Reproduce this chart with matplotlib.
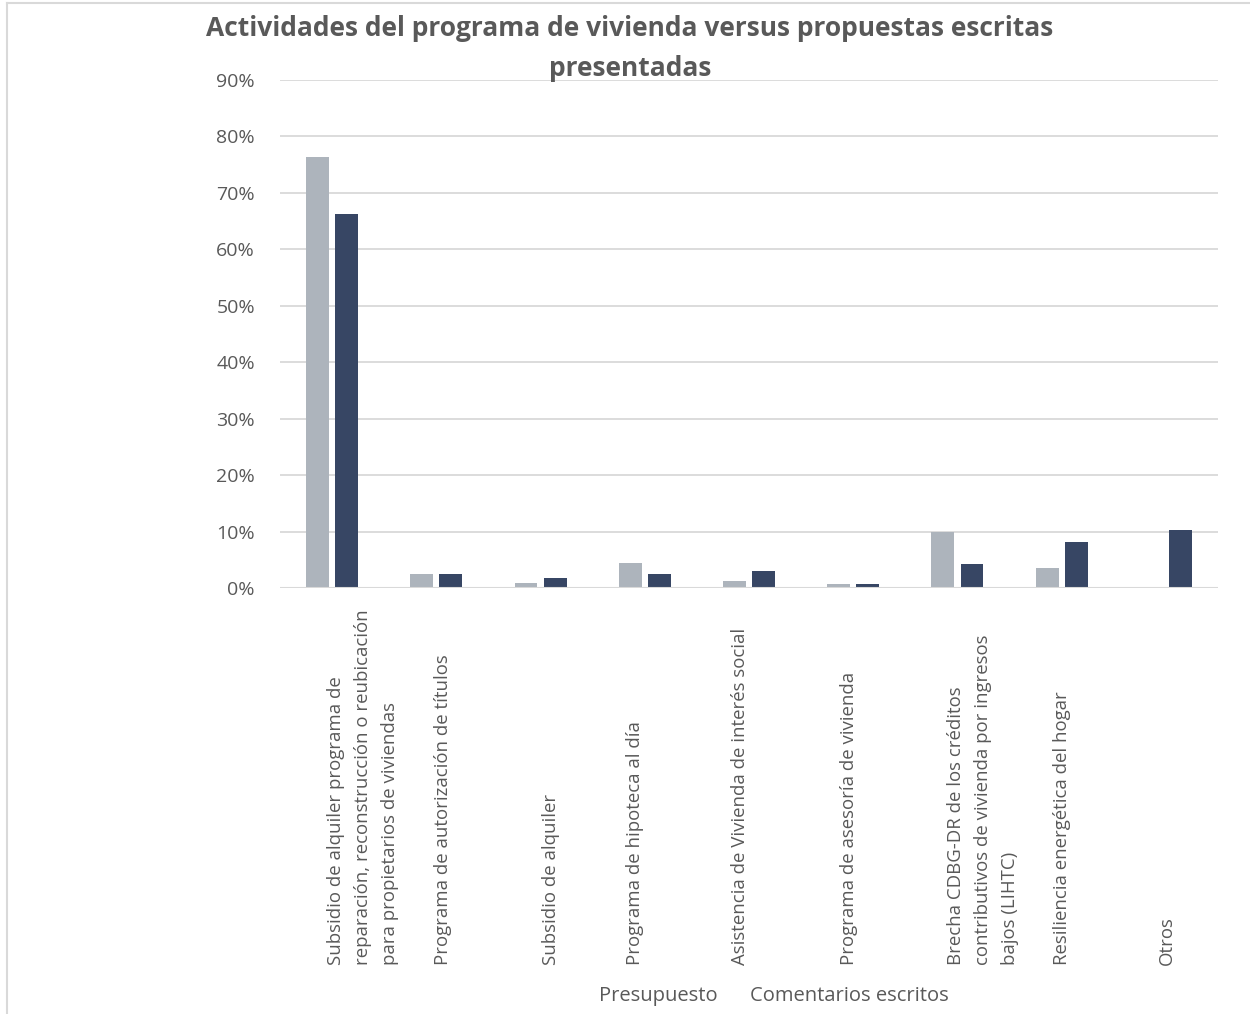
import matplotlib
matplotlib.use("Agg")
import matplotlib.pyplot as plt
from matplotlib.ticker import PercentFormatter, MultipleLocator
from matplotlib.lines import Line2D
import numpy as np

plt.rcParams['font.family'] = ['Open Sans', 'DejaVu Sans']

categories = [
    "Subsidio de alquiler programa de\nreparación, reconstrucción o reubicación\npara propietarios de viviendas",
    "Programa de autorización de títulos",
    "Subsidio de alquiler",
    "Programa de hipoteca al día",
    "Asistencia de Vivienda de interés social",
    "Programa de asesoría de vivienda",
    "Brecha CDBG-DR de los créditos\ncontributivos de vivienda por ingresos\nbajos (LIHTC)",
    "Resiliencia energética del hogar",
    "Otros",
]
presupuesto = [76.4, 2.4, 0.9, 4.4, 1.2, 0.7, 9.9, 3.5, 0.0]
comentarios = [66.3, 2.4, 1.8, 2.4, 3.1, 0.7, 4.3, 8.2, 10.3]
series_names = ["Presupuesto", "Comentarios escritos"]
title_lines = ["Actividades del programa de vivienda versus propuestas escritas",
               "presentadas"]

GRAY = "#ADB4BC"
NAVY = "#374664"
TEXT = "#595959"
GRID = "#D9D9D9"

fig = plt.figure(figsize=(12.5, 10.14), dpi=100)
ax = fig.add_axes([0.224, 0.4201, 0.7504, 0.501])

x = np.arange(len(categories))
w = 0.22
ax.bar(x - 0.14, presupuesto, width=w, color=GRAY, zorder=3)
ax.bar(x + 0.14, comentarios, width=w, color=NAVY, zorder=3)

ax.set_xlim(-0.5, len(categories) - 0.5)
ax.set_ylim(0, 90)
ax.yaxis.set_major_locator(MultipleLocator(10))
ax.yaxis.set_major_formatter(PercentFormatter(decimals=0))
ax.grid(axis='y', color=GRID, linewidth=1.3, zorder=0)
for s in ax.spines.values():
    s.set_visible(False)
ax.axhline(0, color=GRID, linewidth=1.5, zorder=4)
ax.tick_params(axis='y', length=0, pad=18, labelsize=14, labelcolor=TEXT)
ax.set_xticks([])

# rotated category labels, anchored at a common baseline below the axis
label_shift = [-0.05, -0.02, 0.01, -0.18, -0.17, -0.13, -0.1, -0.08, -0.08]
for i, lab in enumerate(categories):
    ax.text(i + label_shift[i], -0.742, lab, transform=ax.get_xaxis_transform(),
            rotation=90, rotation_mode='anchor', ha='left', va='top',
            multialignment='left', fontsize=13.4, color=TEXT, linespacing=1.63)

# two-line title
fig.text(0.504, 0.972, title_lines[0], ha='center', va='center',
         fontsize=19, fontweight='bold', color=TEXT)
fig.text(0.504, 0.932, title_lines[1], ha='center', va='center',
         fontsize=19, fontweight='bold', color=TEXT)

handles = [Line2D([], [], linestyle='none', color=GRAY),
           Line2D([], [], linestyle='none', color=NAVY)]
leg = fig.legend(handles, series_names, loc='center', bbox_to_anchor=(0.619, 0.018),
                 ncol=2, frameon=False, handlelength=0, handletextpad=0,
                 columnspacing=1.6, fontsize=14.5)
for t in leg.get_texts():
    t.set_color(TEXT)

# outer chart border on left and top
fig.add_artist(Line2D([0.0053, 0.0053], [0, 0.997], color=GRID, linewidth=1.5,
                      transform=fig.transFigure))
fig.add_artist(Line2D([0.0053, 1.0], [0.997, 0.997], color=GRID, linewidth=1.5,
                      transform=fig.transFigure))

fig.savefig("out.png", dpi=100, facecolor='white')
